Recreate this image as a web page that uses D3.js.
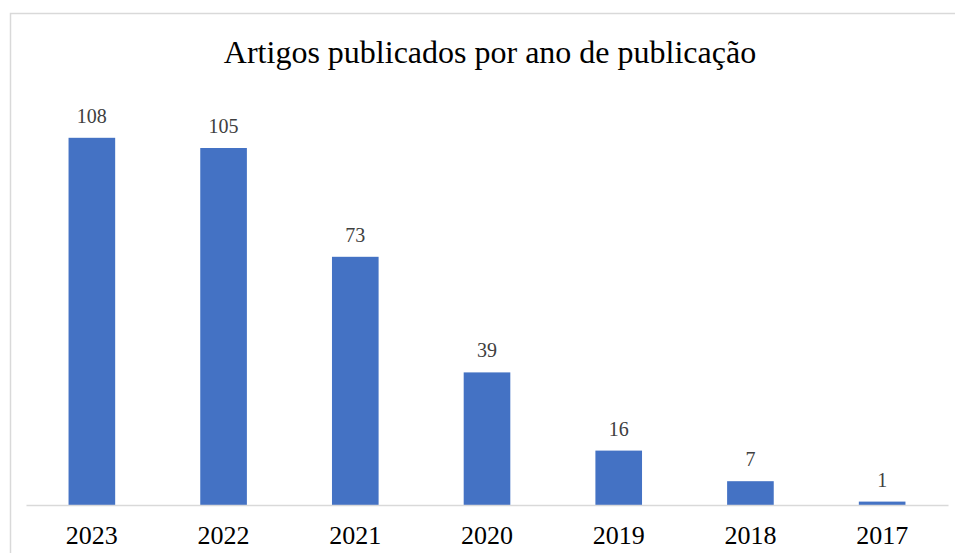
<!DOCTYPE html>
<html>
<head>
<meta charset="utf-8">
<script src="https://cdn.jsdelivr.net/npm/d3@7"></script>
<style>
  body { margin: 0; background: #fff; }
  svg { display: block; }
</style>
</head>
<body>
<div id="chart"></div>
<script>
chart_width = 955;
chart_height = 553;

years = ['2023', '2022', '2021', '2020', '2019', '2018', '2017'];
articles = [108, 105, 73, 39, 16, 7, 1];
title_text = 'Artigos publicados por ano de publicação';

data = years.map((y, i) => ({ year: y, value: articles[i] }));

svg = d3.select('#chart')
	.append('svg')
	.attr('width', chart_width)
	.attr('height', chart_height);

// chart border (runs off the right/bottom edge like the original)
svg.append('rect')
	.attr('x', 10.5)
	.attr('y', 13.5)
	.attr('width', 960)
	.attr('height', 560)
	.attr('fill', 'none')
	.attr('stroke', '#d9d9d9')
	.attr('stroke-width', 1.5);

x_scale = d3.scaleBand()
	.domain(years)
	.range([26, 948])
	.paddingInner(0.646)
	.paddingOuter(0.323);

y_scale = d3.scaleLinear()
	.domain([0, 120])
	.range([505, 97]);

svg.append('text')
	.attr('x', 490)
	.attr('y', 63)
	.attr('text-anchor', 'middle')
	.attr('font-family', '"Liberation Serif", "Times New Roman", serif')
	.attr('font-size', 32)
	.attr('fill', '#000')
	.text(title_text);

svg.selectAll('rect.bar')
	.data(data)
	.enter()
	.append('rect')
	.attr('class', 'bar')
	.attr('x', (d) => x_scale(d.year))
	.attr('y', (d) => y_scale(d.value))
	.attr('width', x_scale.bandwidth())
	.attr('height', (d) => y_scale(0) - y_scale(d.value))
	.attr('fill', '#4472c4');

svg.selectAll('text.val')
	.data(data)
	.enter()
	.append('text')
	.attr('class', 'val')
	.attr('x', (d) => x_scale(d.year) + x_scale.bandwidth() / 2)
	.attr('y', (d) => y_scale(d.value) - 15)
	.attr('text-anchor', 'middle')
	.attr('font-family', '"Liberation Serif", "Times New Roman", serif')
	.attr('font-size', 20)
	.attr('fill', '#404040')
	.text((d) => d.value);

x_axis = svg.append('g')
	.attr('transform', 'translate(0,' + y_scale(0) + ')')
	.call(d3.axisBottom(x_scale).tickSize(0).tickPadding(21));

x_axis.select('.domain')
	.attr('stroke', '#d9d9d9')
	.attr('stroke-width', 1.5);

x_axis.selectAll('text')
	.attr('font-family', '"Liberation Serif", "Times New Roman", serif')
	.attr('font-size', 26)
	.attr('fill', '#000');
</script>
</body>
</html>
